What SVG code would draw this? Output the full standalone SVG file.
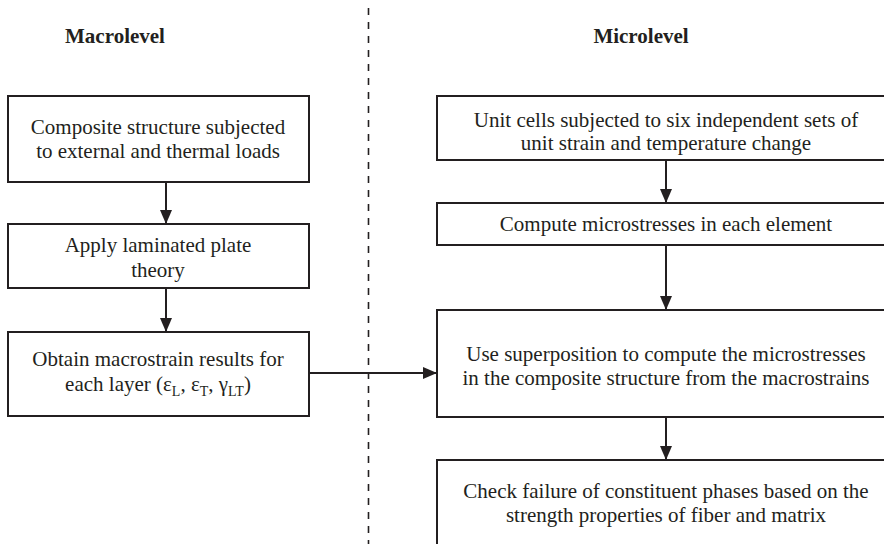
<svg xmlns="http://www.w3.org/2000/svg" width="884" height="544" viewBox="0 0 884 544">
  <style>
    .box { fill: #ffffff; stroke: #231f20; stroke-width: 2; }
    .txt { font-family: "Liberation Serif", "Times New Roman", serif; font-size: 21px; fill: #231f20; text-anchor: middle; }
    .head { font-family: "Liberation Serif", "Times New Roman", serif; font-size: 21px; font-weight: bold; fill: #231f20; text-anchor: middle; }
    .sub { font-size: 14px; }
    .link { stroke: #231f20; stroke-width: 2; fill: none; }
    .divider { stroke: #231f20; stroke-width: 1.6; stroke-dasharray: 7 7; fill: none; }
  </style>
  <defs>
    <marker id="arrow" markerUnits="userSpaceOnUse" markerWidth="14" markerHeight="12" refX="14" refY="6" orient="auto">
      <path d="M0,0 L14,6 L0,12 Z" fill="#231f20"/>
    </marker>
  </defs>

  <rect width="884" height="544" fill="#ffffff"/>

  <!-- column divider -->
  <line class="divider" x1="368.5" y1="8" x2="368.5" y2="544"/>

  <!-- column headings -->
  <text class="head" x="115" y="43">Macrolevel</text>
  <text class="head" x="641" y="43">Microlevel</text>

  <!-- macrolevel column -->
  <g id="macro-loads">
    <rect class="box" x="8" y="96" width="301" height="86"/>
    <text class="txt" x="158" y="134">Composite structure subjected</text>
    <text class="txt" x="158" y="158">to external and thermal loads</text>
  </g>
  <g id="macro-plate-theory">
    <rect class="box" x="8" y="224" width="301" height="64"/>
    <text class="txt" x="158" y="252">Apply laminated plate</text>
    <text class="txt" x="158" y="277">theory</text>
  </g>
  <g id="macro-strains">
    <rect class="box" x="8" y="332" width="301" height="84"/>
    <text class="txt" x="158" y="366">Obtain macrostrain results for</text>
    <text class="txt" x="158" y="391">each layer (ε<tspan class="sub" dy="5">L</tspan><tspan dy="-5">, ε</tspan><tspan class="sub" dy="5">T</tspan><tspan dy="-5">, γ</tspan><tspan class="sub" dy="5">LT</tspan><tspan dy="-5">)</tspan></text>
  </g>

  <!-- microlevel column -->
  <g id="micro-unit-cells">
    <rect class="box" x="437" y="96" width="460" height="64"/>
    <text class="txt" x="666" y="127">Unit cells subjected to six independent sets of</text>
    <text class="txt" x="666" y="150">unit strain and temperature change</text>
  </g>
  <g id="micro-compute">
    <rect class="box" x="437" y="203" width="460" height="42"/>
    <text class="txt" x="666" y="231">Compute microstresses in each element</text>
  </g>
  <g id="micro-superposition">
    <rect class="box" x="437" y="310" width="460" height="107"/>
    <text class="txt" x="666" y="361">Use superposition to compute the microstresses</text>
    <text class="txt" x="666" y="385">in the composite structure from the macrostrains</text>
  </g>
  <g id="micro-failure">
    <rect class="box" x="437" y="460" width="460" height="100"/>
    <text class="txt" x="666" y="498">Check failure of constituent phases based on the</text>
    <text class="txt" x="666" y="522">strength properties of fiber and matrix</text>
  </g>

  <!-- connectors -->
  <g id="connectors">
    <line class="link" x1="166" y1="182" x2="166" y2="224" marker-end="url(#arrow)"/>
    <line class="link" x1="166" y1="288" x2="166" y2="332" marker-end="url(#arrow)"/>
    <line class="link" x1="309" y1="373" x2="437" y2="373" marker-end="url(#arrow)"/>
    <line class="link" x1="666" y1="160" x2="666" y2="203" marker-end="url(#arrow)"/>
    <line class="link" x1="666" y1="245" x2="666" y2="310" marker-end="url(#arrow)"/>
    <line class="link" x1="666" y1="417" x2="666" y2="460" marker-end="url(#arrow)"/>
  </g>
</svg>
